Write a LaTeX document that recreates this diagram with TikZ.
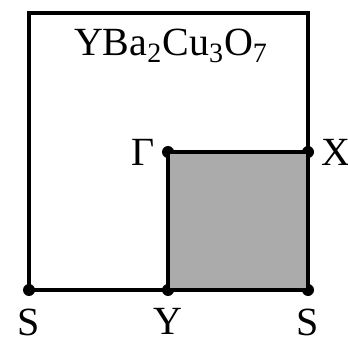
\documentclass[tikz,border=0pt]{standalone}
\usepackage{fontspec}
\setmainfont{Liberation Serif}
\usetikzlibrary{positioning}

\begin{document}
\begin{tikzpicture}[
  x=0.5pt, y=-0.5pt,
  every node/.style={anchor=center, font=\fontsize{20}{24}\selectfont},
  edge/.style={line width=2.2pt, line join=miter},
  pt/.style={circle, fill=black, inner sep=0pt, minimum size=6pt},
]
\useasboundingbox (0,0) rectangle (348,342);
% corners of the zone
\coordinate (tl) at (29,13);
\coordinate (tr) at (308,13);
\node[pt] (S1) at (29,290) {};
\node[pt] (Y)  at (168,290) {};
\node[pt] (S2) at (308,290) {};
\node[pt] (G)  at (168,152) {};
\node[pt] (X)  at (308,152) {};
% irreducible part
\fill[black!33] (G.center) rectangle (S2.center);
\draw[edge] (S1.center) -- (tl) -- (tr) -- (S2.center) -- cycle;
\draw[edge] (Y.center) -- (G.center) -- (X.center);
% labels
\node (title) at (171,46) {YBa\textsubscript{2}Cu\textsubscript{3}O\textsubscript{7}};
\node[below=5pt of S1, inner sep=1pt] {S};
\node[below=5pt of Y, inner sep=1pt] {Y};
\node[below=5pt of S2, inner sep=1pt] {S};
\node[left=0pt of G] {Γ};
\node[right=0pt of X] {X};
\end{tikzpicture}
\end{document}
